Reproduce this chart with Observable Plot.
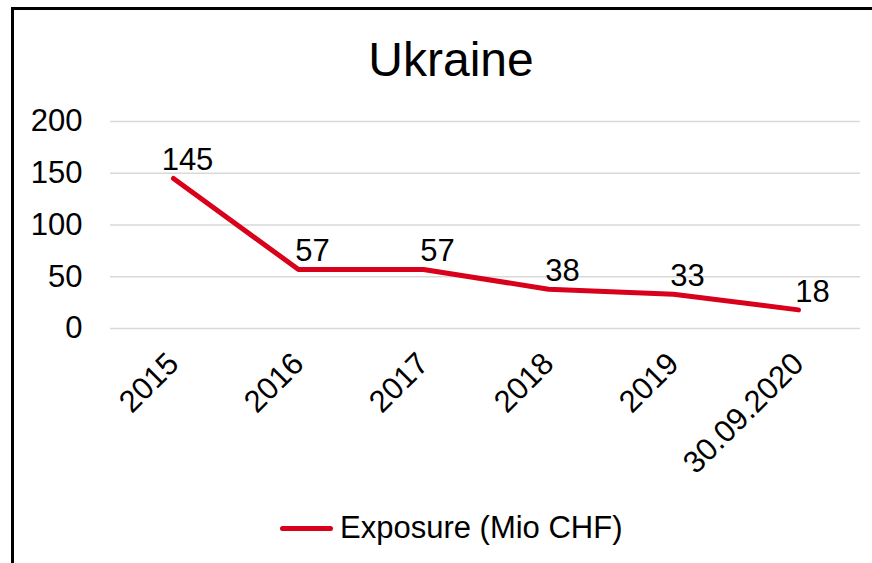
<!DOCTYPE html>
<html>
<head>
<meta charset="utf-8">
<script src="https://cdn.jsdelivr.net/npm/d3@7"></script>
<script src="https://cdn.jsdelivr.net/npm/@observablehq/plot@0.6"></script>
<style>
  html, body { margin: 0; padding: 0; background: #fff; overflow: hidden; }
  body { width: 872px; height: 563px; position: relative; font-family: "Liberation Sans", Arial, sans-serif; }
  #frame { position: absolute; left: 11px; top: 7px; width: 900px; height: 600px; border-left: 3px solid #000; border-top: 3px solid #000; box-sizing: border-box; }
  #title { position: absolute; left: 0; width: 902px; top: 36px; text-align: center; font-size: 48px; line-height: 48px; color: #000; }
  #chart { position: absolute; left: 0; top: 0; }
  #legend { position: absolute; left: 280px; top: 510px; height: 36px; display: flex; align-items: center; font-size: 31px; color: #000; }
  #legend .swatch { display: inline-block; width: 53px; height: 5px; border-radius: 3px; margin-right: 7px; }
</style>
</head>
<body>
<div id="frame"></div>
<div id="title">Ukraine</div>
<div id="chart"></div>
<div id="legend"></div>
<script>
const categories = ["2015", "2016", "2017", "2018", "2019", "30.09.2020"];
const exposure = [145, 57, 57, 38, 33, 18];
const yTicks = [0, 50, 100, 150, 200];
const seriesName = "Exposure (Mio CHF)";
const lineColor = "#d9001b";

const data = categories.map((c, i) => ({period: c, value: exposure[i]}));

const chart = Plot.plot({
  width: 872,
  height: 490,
  marginLeft: 110,
  marginRight: 12,
  marginTop: 121,
  marginBottom: 162,
  style: {fontFamily: "'Liberation Sans', Arial, sans-serif", color: "#000", background: "transparent", overflow: "visible"},
  x: {type: "point", domain: categories, padding: 0.5, label: null},
  y: {domain: [0, 200], label: null},
  marks: [
    Plot.gridY(yTicks, {stroke: "#d9d9d9", strokeOpacity: 1, strokeWidth: 1.5}),
    Plot.axisY(yTicks, {tickSize: 0, tickPadding: 28, fontSize: 31, label: null}),
    Plot.axisX({tickSize: 0, tickRotate: -45, tickPadding: 30, fontSize: 31, label: null}),
    Plot.line(data, {x: "period", y: "value", stroke: lineColor, strokeWidth: 5, strokeLinecap: "round", strokeLinejoin: "round"}),
    Plot.text(data, {x: "period", y: "value", text: d => String(d.value), dx: 14, dy: -18, fontSize: 31, fill: "#000"})
  ]
});
document.getElementById("chart").appendChild(chart);

const legend = document.getElementById("legend");
const sw = document.createElement("span");
sw.className = "swatch";
sw.style.background = lineColor;
legend.appendChild(sw);
legend.appendChild(document.createTextNode(seriesName));
</script>
</body>
</html>
